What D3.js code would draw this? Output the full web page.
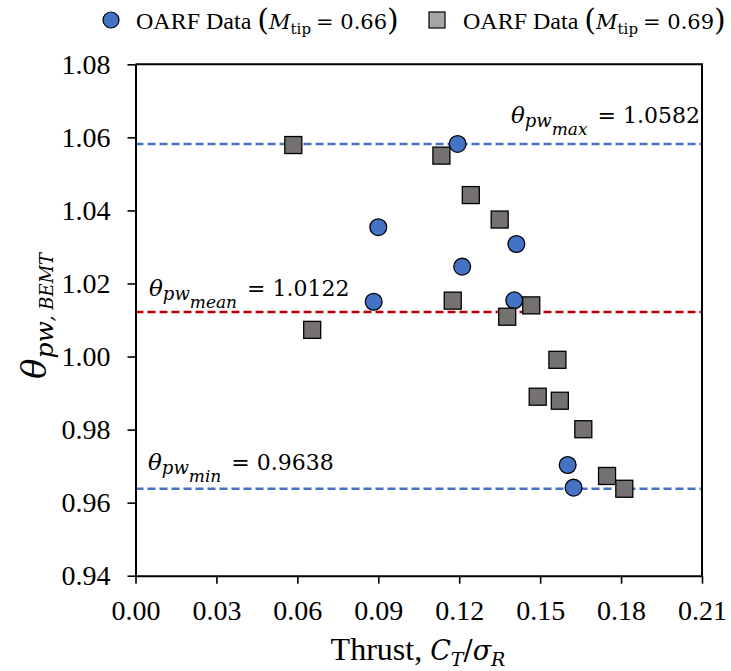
<!DOCTYPE html>
<html>
<head>
<meta charset="utf-8">
<script src="https://cdn.jsdelivr.net/npm/d3@7"></script>
<style>
  body { margin: 0; background: #fff; }
  svg { display: block; }
</style>
</head>
<body>
<svg id="chart" width="731" height="671"></svg>
<script>
// OARF data, M_tip = 0.66: thrust C_T/σ_R and BEMT pitch-weight factor θ_pw
const thrustM066 = [0.1194, 0.0900, 0.1412, 0.1211, 0.0883, 0.1404, 0.1602, 0.1624];
const thetaM066  = [1.0582, 1.0354, 1.0308, 1.0246, 1.0150, 1.0154, 0.9703, 0.9641];

// OARF data, M_tip = 0.69
const thrustM069 = [0.0585, 0.1134, 0.1243, 0.1350, 0.1176, 0.1467, 0.1378, 0.0655,
                    0.1564, 0.1491, 0.1573, 0.1660, 0.1748, 0.1812];
const thetaM069  = [1.0579, 1.0550, 1.0442, 1.0375, 1.0153, 1.0140, 1.0109, 1.0073,
                    0.9991, 0.9890, 0.9879, 0.9801, 0.9673, 0.9638];

// Reference levels
const refNames  = ["max", "mean", "min"];
const refValues = [1.0582, 1.0122, 0.9638];

// Axis ticks
const xTicks = [0.00, 0.03, 0.06, 0.09, 0.12, 0.15, 0.18, 0.21];
const yTicks = [0.94, 0.96, 0.98, 1.00, 1.02, 1.04, 1.06, 1.08];

const SERIF = "'Liberation Serif', 'Times New Roman', serif";
const MATH  = "'DejaVu Serif', serif";

const svg = d3.select("#chart");
const plotL = 135.5, plotR = 702, plotT = 64.3, plotB = 575.7;

const x = d3.scaleLinear().domain([0, 0.21]).range([plotL, plotR]);
const y = d3.scaleLinear().domain([0.94, 1.08]).range([plotB, plotT]);

// Writes a run of styled tspans (math-like text) into a <text> element
function mathText(sel, parts) {
  parts.forEach(p => {
    const t = sel.append("tspan")
      .text(p.t)
      .attr("font-family", p.f || MATH)
      .attr("font-size", p.s)
      .attr("font-style", p.i ? "italic" : "normal");
    if (p.dy) t.attr("dy", p.dy);
    if (p.dx) t.attr("dx", p.dx);
  });
  return sel;
}

// Reference lines
const refColors = { max: "#4472C4", mean: "#C00000", min: "#4472C4" };
svg.append("g").selectAll("line")
  .data(refNames.map((n, i) => ({ name: n, value: refValues[i] })))
  .join("line")
  .attr("x1", x(0)).attr("x2", x(0.21))
  .attr("y1", d => y(d.value)).attr("y2", d => y(d.value))
  .attr("stroke", d => refColors[d.name])
  .attr("stroke-width", 2.6)
  .attr("stroke-dasharray", "8,4");

// Axes
const xAxis = svg.append("g")
  .attr("transform", `translate(0,${plotB})`)
  .call(d3.axisBottom(x).tickValues(xTicks).tickFormat(d3.format(".2f")).tickSize(8).tickSizeOuter(0));
const yAxis = svg.append("g")
  .attr("transform", `translate(${plotL},0)`)
  .call(d3.axisLeft(y).tickValues(yTicks).tickFormat(d3.format(".2f")).tickSize(8).tickSizeOuter(0));

[xAxis, yAxis].forEach(a => {
  a.select(".domain").attr("stroke", "#000").attr("stroke-width", 2);
  a.selectAll(".tick line").attr("stroke", "#000").attr("stroke-width", 1.6);
  a.selectAll(".tick text")
    .attr("fill", "#000")
    .attr("font-family", SERIF)
    .attr("font-size", 28);
});
xAxis.selectAll(".tick text").attr("y", 44.3).attr("dy", 0);
yAxis.selectAll(".tick text").attr("x", -25).attr("dy", "0.33em");

// Frame top and right edges
svg.append("path")
  .attr("d", `M${plotL},${plotT}H${plotR}V${plotB}`)
  .attr("fill", "none").attr("stroke", "#000").attr("stroke-width", 2);

// Markers
const R = 8.4, S = 17;
svg.append("g").selectAll("circle")
  .data(d3.zip(thrustM066, thetaM066))
  .join("circle")
  .attr("cx", d => x(d[0])).attr("cy", d => y(d[1])).attr("r", R)
  .attr("fill", "#4472C4").attr("stroke", "#000").attr("stroke-width", 1.3);

svg.append("g").selectAll("rect")
  .data(d3.zip(thrustM069, thetaM069))
  .join("rect")
  .attr("x", d => x(d[0]) - S / 2).attr("y", d => y(d[1]) - S / 2)
  .attr("width", S).attr("height", S)
  .attr("fill", "#767171").attr("stroke", "#000").attr("stroke-width", 1.3);

// Reference labels
function refLabel(name, value, px, py, anchor) {
  const t = svg.append("text").attr("x", px).attr("y", py)
    .attr("text-anchor", anchor).attr("fill", "#000");
  mathText(t, [
    { t: "θ", s: 23, i: true },
    { t: "pw", s: 18, i: true, dy: 4 },
    { t: name, s: 17, i: true, dy: 8 },
    { t: "= " + value.toFixed(4), s: 22, dy: -12, dx: 10 }
  ]);
}
refLabel(refNames[0], refValues[0], 700, 123, "end");
refLabel(refNames[1], refValues[1], 149, 296, "start");
refLabel(refNames[2], refValues[2], 148, 470, "start");

// Axis titles
const xt = svg.append("text").attr("x", 418).attr("y", 660)
  .attr("text-anchor", "middle").attr("fill", "#000");
mathText(xt, [
  { t: "Thrust, ", s: 32, f: SERIF },
  { t: "C", s: 27, i: true },
  { t: "T", s: 19, i: true, dy: 6 },
  { t: "/", s: 27, dy: -6 },
  { t: "σ", s: 27, i: true },
  { t: "R", s: 19, i: true, dy: 6 }
]);

const yt = svg.append("text")
  .attr("transform", "translate(46,316) rotate(-90)")
  .attr("text-anchor", "middle").attr("fill", "#000");
mathText(yt, [
  { t: "θ", s: 34, i: true },
  { t: "pw", s: 25, i: true, dy: 7 },
  { t: ", BEMT", s: 18, i: true }
]);

// Legend
const leg = svg.append("g");
leg.append("circle").attr("cx", 111).attr("cy", 20).attr("r", 8)
  .attr("fill", "#4472C4").attr("stroke", "#000").attr("stroke-width", 1.2);
leg.append("rect").attr("x", 437 - 8).attr("y", 20 - 8).attr("width", 16).attr("height", 16)
  .attr("fill", "#A6A6A6").attr("stroke", "#000").attr("stroke-width", 1.2);

function legendText(px, mach) {
  const t = leg.append("text").attr("x", px).attr("y", 29).attr("fill", "#000");
  mathText(t, [
    { t: "OARF Data ", s: 24, f: SERIF },
    { t: "(", s: 30, dy: 1 },
    { t: "M", s: 21, i: true, dy: -1 },
    { t: "tip", s: 15, dy: 5 },
    { t: "= " + mach, s: 21, dy: -5, dx: 5 },
    { t: ")", s: 30, dy: 1 }
  ]);
}
legendText(136, "0.66");
legendText(463, "0.69");
</script>
</body>
</html>
